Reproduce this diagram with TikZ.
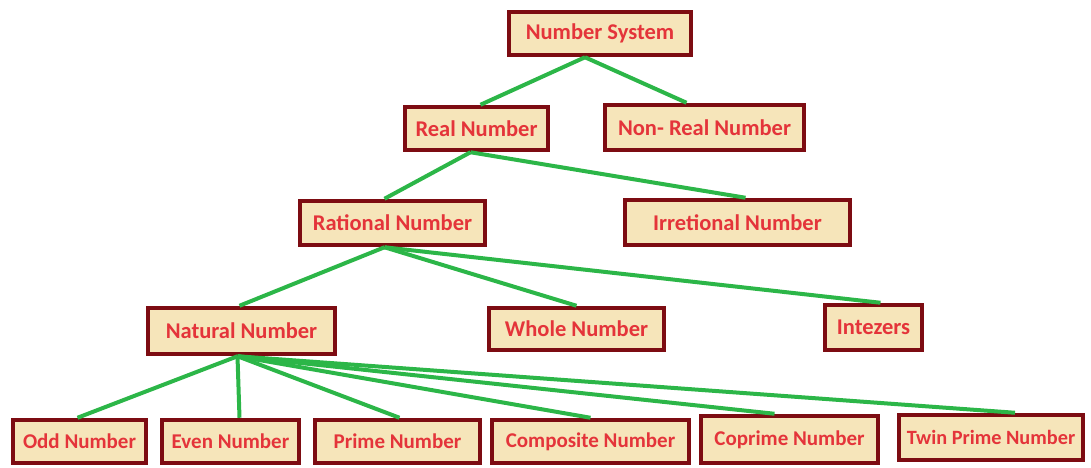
\documentclass[tikz,border=0pt]{standalone}
\usepackage{fontspec}
\setmainfont{Carlito}
\definecolor{boxfill}{RGB}{246,229,186}
\definecolor{boxline}{RGB}{125,12,18}
\definecolor{boxtext}{RGB}{228,52,58}
\definecolor{edge}{RGB}{44,182,72}
\tikzset{
  nbox/.style={draw=boxline, line width=4.5pt, fill=boxfill, text=boxtext,
    font=\fontsize{22.5}{22.5}\selectfont\bfseries, inner sep=0pt, anchor=center},
  small/.style={font=\fontsize{21}{21}\selectfont\bfseries},
  link/.style={draw=edge, line width=4pt}
}
\begin{document}
\begin{tikzpicture}[x=1pt,y=-1pt]
\useasboundingbox (0,0) rectangle (1091,467);
\node[nbox, minimum width=182, minimum height=43] (ns) at (600,33.5) {Number System};
\node[nbox, minimum width=143, minimum height=43] (rn) at (476.5,128.5) {Real Number};
\node[nbox, minimum width=199, minimum height=45] (nr) at (704.5,127.5) {Non- Real Number};
\node[nbox, minimum width=185, minimum height=44] (ra) at (392.5,223) {Rational Number};
\node[nbox, minimum width=225, minimum height=45] (ir) at (737.5,222.5) {Irretional Number};
\node[nbox, minimum width=187, minimum height=46] (na) at (241.5,331) {Natural Number};
\node[nbox, minimum width=175, minimum height=42] (wh) at (576.5,329) {Whole Number};
\node[nbox, minimum width=97, minimum height=45] (in) at (873.5,327.5) {Intezers};
\node[nbox, small, minimum width=133, minimum height=43] (od) at (79.5,441.5) {Odd Number};
\node[nbox, small, minimum width=137, minimum height=43] (ev) at (230.5,441.5) {Even Number};
\node[nbox, small, minimum width=165, minimum height=43] (pr) at (397.5,441.5) {Prime Number};
\node[nbox, small, minimum width=197, minimum height=43] (co) at (590.5,441.5) {Composite Number};
\node[nbox, small, minimum width=177, minimum height=47] (cp) at (789.5,439.5) {Coprime Number};
\node[nbox, font=\fontsize{20.3}{20.3}\selectfont\bfseries, minimum width=184, minimum height=45] (tw) at (991,437.5) {Twin Prime Number};
\draw[link] ([xshift=-15pt]ns.south) -- ([xshift=4pt]rn.north);
\draw[link] ([xshift=-15pt]ns.south) -- ([xshift=-18pt]nr.north);
\draw[link] ([xshift=-6pt]rn.south) -- ([xshift=-8pt]ra.north);
\draw[link] ([xshift=-6pt]rn.south) -- ([xshift=8pt]ir.north);
\draw[link] ([xshift=-8pt]ra.south) -- ([xshift=-2pt]na.north);
\draw[link] ([xshift=-8pt]ra.south) -- ([xshift=0pt]wh.north);
\draw[link] ([xshift=-8pt]ra.south) -- ([xshift=7pt]in.north);
\draw[link] ([xshift=-4pt]na.south) -- ([xshift=-2pt]od.north);
\draw[link] ([xshift=-4pt]na.south) -- ([xshift=9pt]ev.north);
\draw[link] ([xshift=-4pt]na.south) -- ([xshift=2pt]pr.north);
\draw[link] ([xshift=-4pt]na.south) -- ([xshift=0pt]co.north);
\draw[link] ([xshift=-4pt]na.south) -- ([xshift=-15pt]cp.north);
\draw[link] ([xshift=-4pt]na.south) -- ([xshift=24pt]tw.north);
\end{tikzpicture}
\end{document}
